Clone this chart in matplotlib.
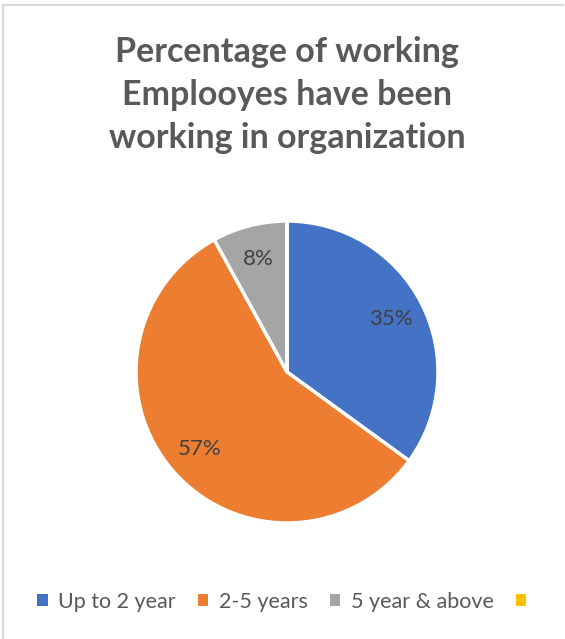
import matplotlib.pyplot as plt
from matplotlib.lines import Line2D
from matplotlib.patches import Patch

plt.rcParams['font.family'] = ['Lato', 'DejaVu Sans']

labels = ['Up to 2 year', '2-5 years', '5 year & above', '']
values = [35, 57, 8, 0]
colors = ['#4472c4', '#ed7d31', '#a5a5a5', '#ffc000']

W, H = 565, 639
fig = plt.figure(figsize=(W / 100, H / 100), dpi=100)

# chart border (only top and left edges visible in the crop)
fig.add_artist(Line2D([3 / W, 3 / W], [0, 1 - 5 / H], color='#d9d9d9', lw=1.5))
fig.add_artist(Line2D([3 / W, 563 / W], [1 - 5 / H, 1 - 5 / H], color='#d9d9d9', lw=1.5))

fig.text(287 / W, 1 - 95 / H, 'Percentage of working\nEmplooyes have been\nworking in organization',
         ha='center', va='center', fontsize=24.5, fontweight='bold', color='#595959',
         linespacing=1.42)

cx, cy, r = 287, 372, 151
ax = fig.add_axes([(cx - r) / W, 1 - (cy + r) / H, 2 * r / W, 2 * r / H])


def fmt(p):
    return '%d%%' % round(p) if p > 0 else ''


wedges, texts, autotexts = ax.pie(values, colors=colors, startangle=90, counterclock=False,
                                  autopct=fmt, pctdistance=0.77, radius=1,
                                  wedgeprops=dict(edgecolor='white', linewidth=2.5),
                                  textprops=dict(fontsize=16, color='#404040'))
ax.set_xlim(-1, 1)
ax.set_ylim(-1, 1)
ax.set_aspect('equal')

handles = [Patch(facecolor=c, edgecolor='none') for c in colors]
fig.legend(handles, labels, loc='center', bbox_to_anchor=(287 / W, 1 - 602 / H), ncol=4,
           frameon=False, fontsize=15.5, labelcolor='#595959', handlelength=0.5,
           handleheight=0.5, handletextpad=0.5, columnspacing=1.0)

fig.savefig('out.png', dpi=100)
